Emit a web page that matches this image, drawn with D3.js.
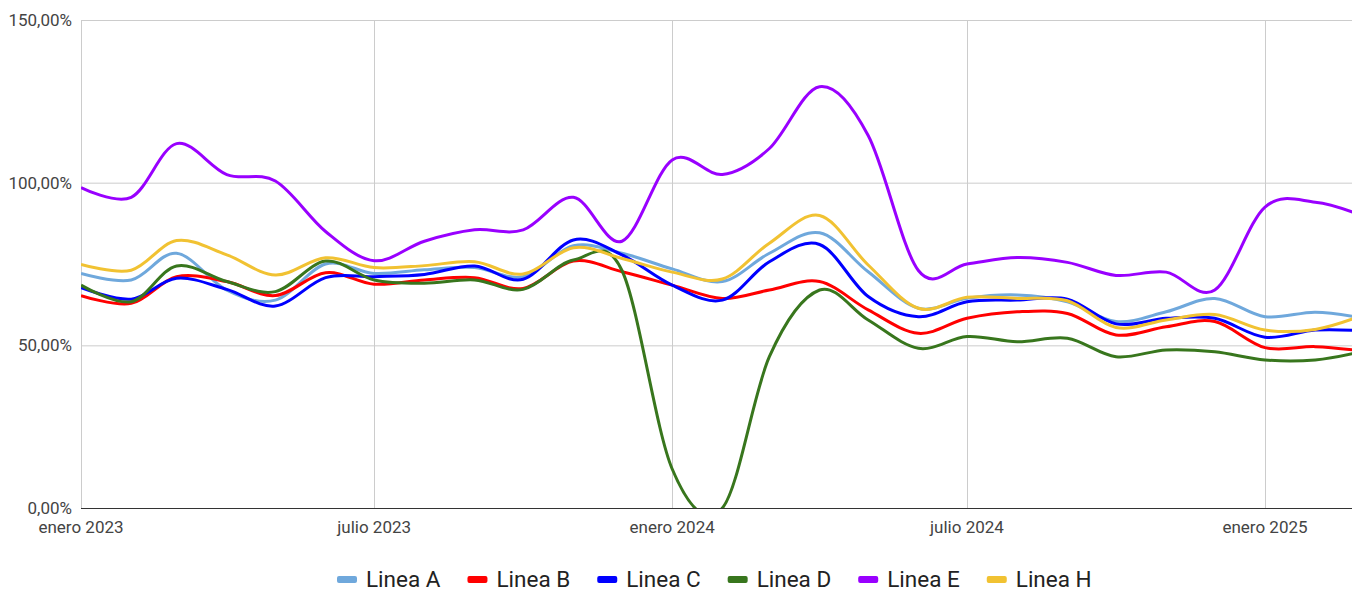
<!DOCTYPE html>
<html>
<head>
<meta charset="utf-8">
<script src="https://cdn.jsdelivr.net/npm/d3@7"></script>
<style>
  body { margin: 0; background: #fff; font-family: Roboto, "Noto Sans", sans-serif; }
  .tick-label { fill: #444; font-size: 17px; }
  .legend-label { fill: #222; font-size: 22.5px; }
</style>
</head>
<body>
<svg id="vis_canvas" width="1352" height="589"></svg>
<script>
// months, one point each
var months = ["2023-01","2023-02","2023-03","2023-04","2023-05","2023-06","2023-07","2023-08","2023-09",
  "2023-10","2023-11","2023-12","2024-01","2024-02","2024-03","2024-04","2024-05","2024-06","2024-07",
  "2024-08","2024-09","2024-10","2024-11","2024-12","2025-01","2025-02","2025-03"];

var linea_a = [72.1,70.1,78.3,67.0,63.9,75.0,72.1,73.2,73.9,71.1,80.6,78.3,73.5,69.6,78.3,84.6,72.6,61.4,64.5,65.5,63.4,57.3,60.3,64.4,58.8,60.2,58.5];
var linea_b = [65.3,62.9,71.1,69.6,65.3,72.3,68.8,70.1,70.8,67.5,75.9,72.6,68.5,64.4,67.0,69.6,60.9,53.7,58.3,60.3,59.8,53.2,55.7,57.3,49.3,49.6,48.3];
var linea_c = [67.7,64.2,70.6,67.2,62.1,70.8,71.1,71.8,74.4,70.3,82.4,77.8,68.5,63.9,75.7,81.0,65.0,58.8,63.4,63.9,64.2,56.6,58.3,58.3,52.5,54.7,54.5];
var linea_d = [68.5,63.4,74.4,69.6,66.5,75.9,70.1,69.1,70.1,67.2,76.2,73.0,12.0,0.0,46.5,67.0,57.8,49.1,52.7,51.1,52.2,46.5,48.6,48.0,45.5,45.5,48.0];
var linea_e = [98.5,95.5,112.0,102.5,100.5,85.0,76.0,82.0,85.5,85.5,95.5,82.0,107.0,102.5,110.5,129.5,114.5,73.0,75.0,77.0,75.5,71.5,72.5,67.0,92.5,94.0,90.0];
var linea_h = [74.9,73.1,82.2,77.8,71.6,76.9,73.9,74.5,75.7,71.9,80.0,76.7,72.5,70.4,81.4,89.9,74.7,61.4,64.8,64.4,63.7,55.5,57.8,59.5,54.7,54.9,59.0];

var series_names = ["Linea A","Linea B","Linea C","Linea D","Linea E","Linea H"];
var series_colors = ["#6fa8dc","#ff0000","#0000ff","#38761d","#9900ff","#f1c232"];
var series_values = [linea_a, linea_b, linea_c, linea_d, linea_e, linea_h];

var y_ticks = [0, 50, 100, 150];
var x_ticks = ["2023-01","2023-07","2024-01","2024-07","2025-01"];
var mes = ["enero","febrero","marzo","abril","mayo","junio","julio","agosto","septiembre","octubre","noviembre","diciembre"];

var parse = d3.utcParse("%Y-%m");
var dates = months.map(parse);

var plot_left = 81, plot_right = 1352, plot_top = 20, plot_bottom = 508;

var x = d3.scaleUtc()
    .domain([parse("2023-01"), parse("2025-01")])
    .range([plot_left, 1265]);
var y = d3.scaleLinear()
    .domain([0, 150])
    .range([plot_bottom, plot_top]);

var svg = d3.select("#vis_canvas");

svg.append("defs").append("clipPath").attr("id", "plot_clip")
  .append("rect")
    .attr("x", plot_left).attr("y", plot_top)
    .attr("width", plot_right - plot_left).attr("height", plot_bottom - plot_top);

// gridlines
svg.append("g").selectAll("line").data(y_ticks.filter(function(d) { return d > 0; }))
  .enter().append("line")
    .attr("x1", plot_left).attr("x2", plot_right)
    .attr("y1", function(d) { return y(d) + 0.5; })
    .attr("y2", function(d) { return y(d) + 0.5; })
    .attr("stroke", "#cccccc").attr("stroke-width", 1);

svg.append("g").selectAll("line").data(x_ticks.map(parse))
  .enter().append("line")
    .attr("x1", function(d) { return Math.round(x(d)) + 0.5; })
    .attr("x2", function(d) { return Math.round(x(d)) + 0.5; })
    .attr("y1", plot_top).attr("y2", plot_bottom)
    .attr("stroke", "#cccccc").attr("stroke-width", 1);

// y labels
svg.append("g").selectAll("text").data(y_ticks)
  .enter().append("text")
    .attr("class", "tick-label")
    .attr("x", plot_left - 9)
    .attr("y", function(d) { return y(d) + 6; })
    .attr("text-anchor", "end")
    .text(function(d) { return d3.format(".2f")(d).replace(".", ",") + "%"; });

// x labels
svg.append("g").selectAll("text").data(x_ticks.map(parse))
  .enter().append("text")
    .attr("class", "tick-label")
    .attr("x", function(d) { return x(d); })
    .attr("y", 533)
    .attr("text-anchor", "middle")
    .text(function(d) { return mes[d.getUTCMonth()] + " " + d.getUTCFullYear(); });

// lines
var line = d3.line()
    .x(function(d, i) { return x(dates[i]); })
    .y(function(d) { return y(d); })
    .curve(d3.curveCatmullRom.alpha(0));

svg.append("g").attr("clip-path", "url(#plot_clip)")
  .selectAll("path").data(series_values)
  .enter().append("path")
    .attr("d", function(d) { return line(d); })
    .attr("fill", "none")
    .attr("stroke", function(d, i) { return series_colors[i]; })
    .attr("stroke-width", 3)
    .attr("stroke-linejoin", "round");

// baseline
svg.append("line")
    .attr("x1", plot_left).attr("x2", plot_right)
    .attr("y1", y(0) + 0.5).attr("y2", y(0) + 0.5)
    .attr("stroke", "#333").attr("stroke-width", 1);

// legend
var legend = svg.append("g");
var lx = 337;
series_names.forEach(function(name, i) {
    var g = legend.append("g").attr("transform", "translate(" + lx + ",579)");
    g.append("rect")
        .attr("x", 0).attr("y", -3)
        .attr("width", 20).attr("height", 7)
        .attr("rx", 2)
        .attr("fill", series_colors[i]);
    var t = g.append("text")
        .attr("class", "legend-label")
        .attr("x", 29).attr("y", 8)
        .text(name);
    lx += 29 + t.node().getComputedTextLength() + 27;
});
</script>
</body>
</html>
